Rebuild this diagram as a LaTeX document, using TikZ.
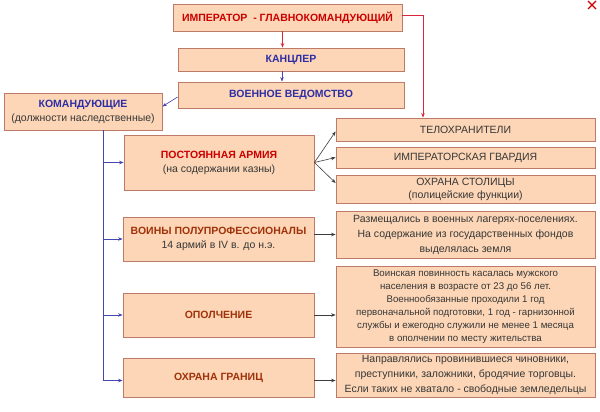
\documentclass[tikz,border=0pt]{standalone}
\usepackage{fontspec}
\setmainfont{Liberation Sans}
\usetikzlibrary{arrows.meta,positioning,calc}

\definecolor{boxfill}{RGB}{252,214,182}
\definecolor{boxline}{RGB}{190,122,104}
\definecolor{titred}{RGB}{204,0,0}
\definecolor{titblue}{RGB}{45,45,165}
\definecolor{titbrown}{RGB}{160,50,10}
\definecolor{txtgray}{RGB}{55,55,55}
\definecolor{linkblue}{RGB}{70,70,175}
\definecolor{linkred}{RGB}{215,40,60}
\definecolor{linkgray}{RGB}{60,60,60}

\begin{document}
\begin{tikzpicture}[x=1pt,y=-1pt,
    blk/.style={draw=boxline, fill=boxfill, line width=0.8pt, inner sep=1pt,
        align=center, text=txtgray, font=\fontsize{10.5}{14}\selectfont},
    arr/.style={-{Stealth[length=4.5pt,width=3.5pt]}, line width=0.6pt}]
    \useasboundingbox (0,0) rectangle (600,412);

    % Command chain
    \node[blk, minimum width=229pt, minimum height=27pt] (emp) at (287.5,17.5)
        {\color{titred}\bfseries ИМПЕРАТОР ~- ГЛАВНОКОМАНДУЮЩИЙ};
    \node[blk, minimum width=226pt, minimum height=23pt] (kanc) at (291,59.5)
        {\color{titblue}\bfseries КАНЦЛЕР};
    \node[blk, minimum width=226pt, minimum height=26pt] (ved) at (291,95)
        {\color{titblue}\bfseries ВОЕННОЕ ВЕДОМСТВО};
    \node[blk, minimum width=158pt, minimum height=37pt] (komand) at (83,111.5)
        {{\color{titblue}\bfseries КОМАНДУЮЩИЕ}\\(должности наследственные)};

    % Troop kinds
    \node[blk, minimum width=190pt, minimum height=55pt] (postarm) at (219,162.5)
        {{\color{titred}\bfseries ПОСТОЯННАЯ АРМИЯ}\\(на содержании казны)};
    \node[blk, minimum width=191pt, minimum height=44pt] (voiny) at (218.5,239)
        {{\color{titbrown}\bfseries ВОИНЫ ПОЛУПРОФЕССИОНАЛЫ}\\14 армий в IV в. до н.э.};
    \node[blk, minimum width=191pt, minimum height=44pt] (opol) at (218.5,315)
        {\color{titbrown}\bfseries ОПОЛЧЕНИЕ};
    \node[blk, minimum width=191pt, minimum height=39pt] (gran) at (218.5,377.5)
        {\color{titbrown}\bfseries ОХРАНА ГРАНИЦ};

    % Details on the right
    \node[blk, minimum width=259pt, minimum height=23pt] (telo) at (465.5,129.5)
        {ТЕЛОХРАНИТЕЛИ};
    \node[blk, minimum width=259pt, minimum height=21pt] (gvard) at (465.5,157.5)
        {ИМПЕРАТОРСКАЯ ГВАРДИЯ};
    \node[blk, minimum width=259pt, minimum height=28pt, font=\fontsize{10.5}{13}\selectfont]
        (stol) at (465.5,189) {ОХРАНА СТОЛИЦЫ\\(полицейские функции)};
    \node[blk, minimum width=259pt, minimum height=47pt, font=\fontsize{10.5}{15}\selectfont]
        (voinyR) at (465.5,234.5)
        {Размещались в военных лагерях-поселениях.\\На содержание из государственных фондов\\выделялась земля};
    \node[blk, minimum width=259pt, minimum height=81pt, font=\fontsize{9.7}{13}\selectfont]
        (opolR) at (465.5,306.5)
        {Воинская повинность касалась мужского\\населения в возрасте от 23 до 56 лет.\\Военнообязанные проходили 1 год\\первоначальной подготовки, 1 год - гарнизонной\\службы и ежегодно служили не менее 1 месяца\\в ополчении по месту жительства};
    \node[blk, minimum width=259pt, minimum height=44pt, font=\fontsize{10.5}{15}\selectfont]
        (granR) at (465.5,375)
        {Направлялись провинившиеся чиновники,\\преступники, заложники, бродячие торговцы.\\Если таких не хватало - свободные земледельцы};

    % Links down the chain
    \draw[arr, linkred] ($(emp.south)+(-5,0)$) -- ($(emp.south |- kanc.north)+(-5,0)$);
    \draw[arr, linkblue] ($(kanc.south)+(-9,0)$) -- ($(kanc.south |- ved.north)+(-9,0)$);
    \draw[arr, linkblue] ($(ved.west)+(0,2)$) -- ($(komand.east)+(0,-5)$);
    \coordinate (rdrop) at (423,0);
    \draw[arr, linkred] ($(emp.east)+(0,-2)$) -| (rdrop |- telo.north);

    % Trunk from the commanders
    \coordinate (trunk) at (103,0);
    \draw[arr, linkblue] (trunk |- komand.south) |- ($(gran.west)+(0,3)$);
    \foreach \t in {postarm,voiny,opol}
        \draw[arr, linkblue] (trunk |- \t.west) -- (\t.west);

    % Fan of the standing army
    \draw[arr, linkgray] (postarm.east) -- ($(telo.west)+(0,2)$);
    \draw[arr, linkgray] (postarm.east) -- (gvard.west);
    \draw[arr, linkgray] (postarm.east) -- ($(stol.west)+(0,-6)$);

    % Explanations
    \draw[arr, linkgray] (voiny.east |- voinyR.west) -- (voinyR.west);
    \draw[arr, linkgray] (opol.east) -- (opol.east -| opolR.west);
    \draw[arr, linkgray] ($(gran.east)+(0,3)$) -- ($(gran.east -| granR.west)+(0,3)$);

    % Close mark
    \draw[titred, line width=1.3pt] (588,1) -- (596,9) (596,1) -- (588,9);
\end{tikzpicture}
\end{document}
